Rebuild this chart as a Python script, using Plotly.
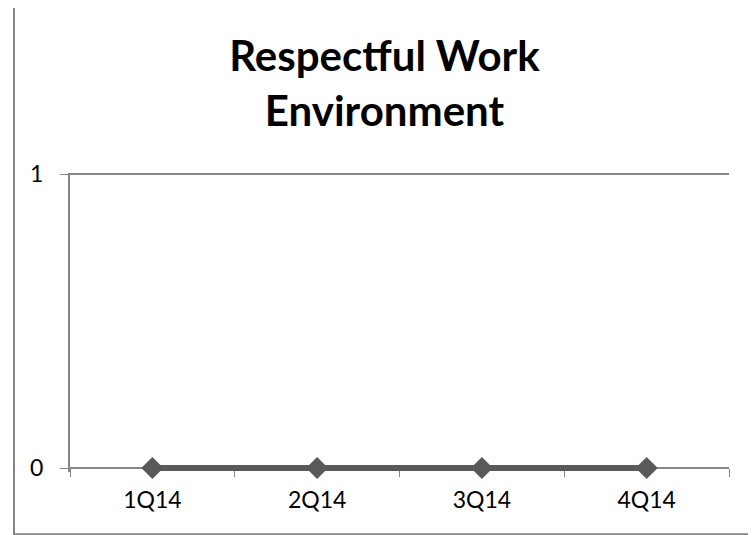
import plotly.graph_objects as go

quarters = ["1Q14", "2Q14", "3Q14", "4Q14"]
scores = [0, 0, 0, 0]

title_text = "Respectful Work<br>Environment"

LINE_GREY = "#595959"
AXIS_GREY = "#868686"
FONT = "Lato, 'Open Sans', sans-serif"

# small headroom below zero so the thick line at 0 isn't clipped in half,
# and a hair above 1 so the top gridline is still drawn
Y_PAD = 0.0136
Y_TOP = 1.004

fig = go.Figure()

fig.add_trace(
    go.Scatter(
        x=quarters,
        y=scores,
        mode="lines+markers",
        line=dict(color=LINE_GREY, width=6),
        marker=dict(symbol="diamond", size=17, color=LINE_GREY),
        showlegend=False,
        cliponaxis=False,
    )
)

# outer chart border (Excel chart area frame)
fig.add_shape(
    type="rect",
    xref="paper", yref="paper",
    x0=-0.085, x1=1.05, y0=-0.208, y1=1.574,
    line=dict(color=AXIS_GREY, width=2),
    layer="below",
)

fig.update_layout(
    width=756,
    height=535,
    margin=dict(l=62, r=35, t=165, b=71),
    paper_bgcolor="white",
    plot_bgcolor="white",
    font=dict(family=FONT, size=23, color="black"),
    title=dict(
        text=title_text,
        font=dict(family=FONT, size=42, color="black", weight="bold"),
        xref="container", x=0.498, xanchor="center",
        yref="container", y=0.882, yanchor="middle",
    ),
    xaxis=dict(
        type="category",
        range=[-0.5, 3.5],
        anchor="free",
        position=Y_PAD / (1 + Y_PAD),
        tickson="boundaries",
        ticks="outside",
        ticklen=8,
        tickcolor=AXIS_GREY,
        showline=True,
        linecolor=AXIS_GREY,
        linewidth=2,
        showgrid=False,
        layer="below traces",
        tickfont=dict(size=23),
        ticklabelstandoff=11,
    ),
    yaxis=dict(
        range=[-Y_PAD, Y_TOP],
        tickvals=[0, 1],
        ticks="outside",
        ticklen=8,
        tickcolor=AXIS_GREY,
        showline=True,
        linecolor=AXIS_GREY,
        linewidth=2,
        showgrid=True,
        gridcolor=AXIS_GREY,
        gridwidth=2,
        zeroline=False,
        layer="below traces",
        tickfont=dict(size=23),
        ticklabelstandoff=12,
    ),
)

fig.write_html("out.html")
